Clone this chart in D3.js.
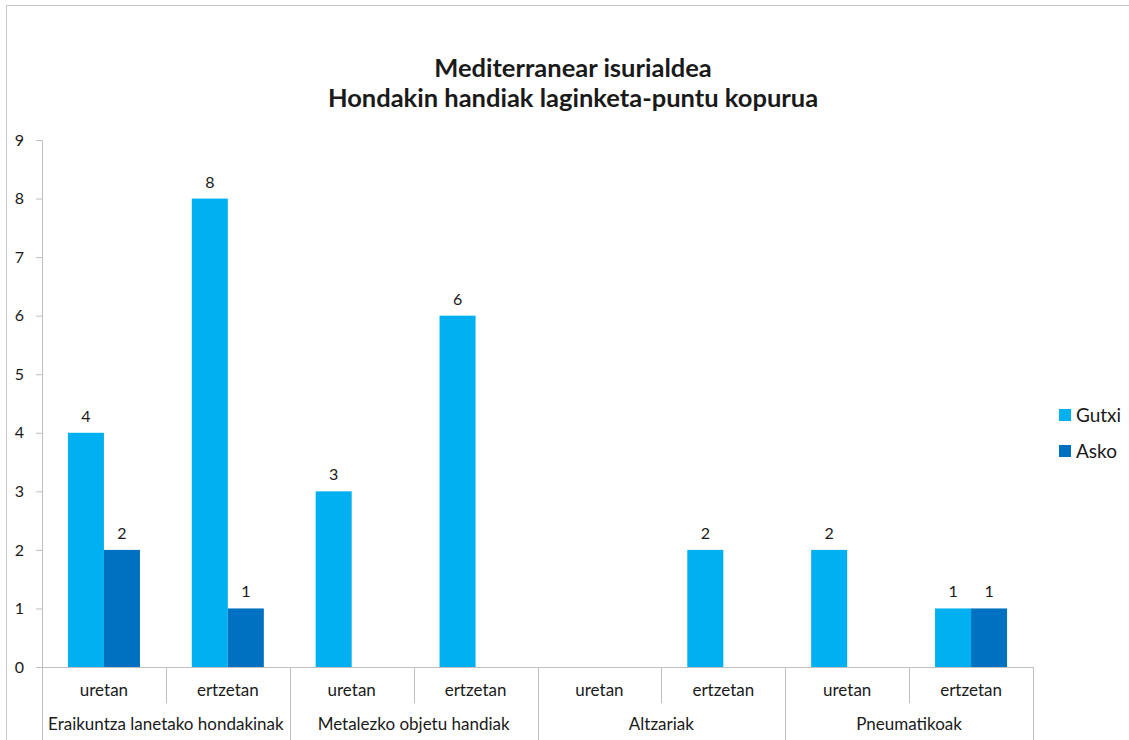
<!DOCTYPE html>
<html>
<head>
<meta charset="utf-8">
<script src="https://cdn.jsdelivr.net/npm/d3@7"></script>
<style>
  body { margin: 0; background: #fff; }
  svg text { font-family: Lato, "Open Sans", sans-serif; fill: #1a1a1a; }
</style>
</head>
<body>
<div id="chart"></div>
<script>
// data
var groups = ["Eraikuntza lanetako hondakinak", "Metalezko objetu handiak", "Altzariak", "Pneumatikoak"];
var places = ["uretan", "ertzetan"];
var seriesNames = ["Gutxi", "Asko"];
var gutxi = [4, 8, 3, 6, null, 2, 2, 1];
var asko = [2, 1, null, null, null, null, null, 1];
var yTicks = [0, 1, 2, 3, 4, 5, 6, 7, 8, 9];
var colors = ["#00b0f0", "#0070c0"];

var svgWidth = 1129, svgHeight = 740;
var margin = {top: 140, left: 42, right: 96, bottom: 73};
var width = svgWidth - margin.left - margin.right;
var height = svgHeight - margin.top - margin.bottom;

var svg = d3.select("#chart")
    .append("svg")
    .attr("width", svgWidth)
    .attr("height", svgHeight);

// outer chart border
svg.append("rect")
    .attr("x", 6.5).attr("y", 5.5)
    .attr("width", svgWidth + 20).attr("height", svgHeight + 20)
    .attr("fill", "none")
    .attr("stroke", "#c8c8c8");

// title
var title = svg.append("text")
    .attr("text-anchor", "middle")
    .style("font-size", "25.5px")
    .style("font-weight", "bold");
title.append("tspan").attr("x", 573).attr("y", 77).text("Mediterranear isurialdea");
title.append("tspan").attr("x", 573).attr("y", 107).text("Hondakin handiak laginketa-puntu kopurua");

var g = svg.append("g")
    .attr("transform", "translate(" + margin.left + "," + margin.top + ")");

// rows: one per group/place pair
var rows = [];
groups.forEach(function (grp, gi) {
    places.forEach(function (pl, pi) {
        var i = gi * places.length + pi;
        rows.push({key: i, group: grp, place: pl, values: [gutxi[i], asko[i]]});
    });
});

// scales
var x = d3.scaleBand()
    .domain(rows.map(d => d.key))
    .range([0, width]);

var xs = d3.scaleBand()
    .domain(seriesNames)
    .range([0, x.bandwidth()])
    .paddingOuter(0.72)
    .paddingInner(0);

var y = d3.scaleLinear()
    .domain([0, 9])
    .range([height, 0]);

// y axis
var yAxis = d3.axisLeft(y).tickValues(yTicks).tickSize(6).tickPadding(12);
var ya = g.append("g").attr("class", "y axis").call(yAxis);
ya.select(".domain").attr("stroke", "#bfbfbf");
ya.selectAll(".tick line").attr("stroke", "#bfbfbf");
ya.selectAll(".tick text").style("font-size", "16px");

// bars
var rowG = g.selectAll(".row")
    .data(rows)
    .join("g")
    .attr("class", "row")
    .attr("transform", d => "translate(" + x(d.key) + ",0)");

var cells = rowG.selectAll(".cell")
    .data(d => d.values.map((v, si) => ({name: seriesNames[si], value: v, si: si})).filter(c => c.value !== null))
    .join("g")
    .attr("class", "cell");

cells.append("rect")
    .attr("x", d => xs(d.name))
    .attr("width", xs.bandwidth())
    .attr("y", d => y(d.value))
    .attr("height", d => height - y(d.value))
    .attr("fill", d => colors[d.si]);

cells.append("text")
    .attr("x", d => xs(d.name) + xs.bandwidth() / 2)
    .attr("y", d => y(d.value) - 11)
    .attr("text-anchor", "middle")
    .style("font-size", "16px")
    .text(d => d.value);

// x axis line
g.append("line")
    .attr("x1", 0).attr("x2", width)
    .attr("y1", height + 0.5).attr("y2", height + 0.5)
    .attr("stroke", "#bfbfbf");

// separators between subcategories and groups
var sepKeys = d3.range(rows.length + 1);
g.selectAll(".sep")
    .data(sepKeys)
    .join("line")
    .attr("class", "sep")
    .attr("x1", d => Math.round(d * x.step()) + 0.5)
    .attr("x2", d => Math.round(d * x.step()) + 0.5)
    .attr("y1", height)
    .attr("y2", d => d % places.length === 0 ? height + 80 : height + 36)
    .attr("stroke", "#bfbfbf");

// subcategory labels
g.selectAll(".place")
    .data(rows)
    .join("text")
    .attr("class", "place")
    .attr("x", d => x(d.key) + x.bandwidth() / 2)
    .attr("y", height + 29)
    .attr("text-anchor", "middle")
    .style("font-size", "17px")
    .text(d => d.place);

// group labels
g.selectAll(".grp")
    .data(groups)
    .join("text")
    .attr("class", "grp")
    .attr("x", (d, i) => x(i * places.length) + x.step())
    .attr("y", height + 63)
    .attr("text-anchor", "middle")
    .style("font-size", "17px")
    .text(d => d);

// legend
var legend = svg.append("g")
    .attr("transform", "translate(1059,409)");
var li = legend.selectAll(".li")
    .data(seriesNames)
    .join("g")
    .attr("class", "li")
    .attr("transform", (d, i) => "translate(0," + (i * 36) + ")");
li.append("rect")
    .attr("width", 12).attr("height", 12)
    .attr("fill", (d, i) => colors[i]);
li.append("text")
    .attr("x", 17).attr("y", 13)
    .style("font-size", "19px")
    .text(d => d);
</script>
</body>
</html>
